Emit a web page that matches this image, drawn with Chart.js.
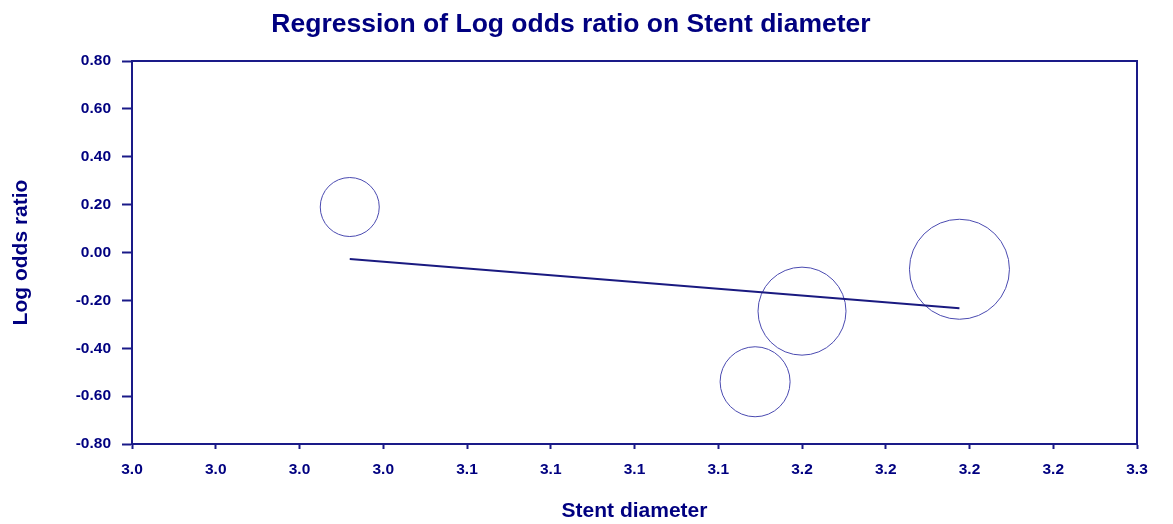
<!DOCTYPE html>
<html>
<head>
<meta charset="utf-8">
<script src="https://cdn.jsdelivr.net/npm/chart.js@4/dist/chart.umd.min.js"></script>
<style>
  html, body { margin: 0; padding: 0; background: #ffffff; }
  #wrap { width: 1173px; height: 524px; position: relative; }
</style>
</head>
<body>
<div id="wrap"><canvas id="chart" width="1173" height="524"></canvas></div>
<script>
// Studies: stent diameter (mm) vs log odds ratio, bubble radius = study weight
const stentDiameter = [3.025, 3.146, 3.160, 3.207];
const logOddsRatio  = [0.19, -0.54, -0.245, -0.07];
const studyWeight   = [29.5, 35, 44, 50];

// Fitted regression line endpoints
const fitDiameter = [3.025, 3.207];
const fitLogOdds  = [-0.027, -0.233];

// Axis ticks
const xTickValues = [2.96, 2.985, 3.01, 3.035, 3.06, 3.085, 3.11, 3.135, 3.16, 3.185, 3.21, 3.235, 3.26];
const xTickLabels = ['3.0', '3.0', '3.0', '3.0', '3.1', '3.1', '3.1', '3.1', '3.2', '3.2', '3.2', '3.2', '3.3'];
const yTickValues = [-0.8, -0.6, -0.4, -0.2, 0, 0.2, 0.4, 0.6, 0.8];
const yTickLabels = ['-0.80', '-0.60', '-0.40', '-0.20', '0.00', '0.20', '0.40', '0.60', '0.80'];

const titleText = 'Regression of Log odds ratio on Stent diameter';

const NAVY = '#000080';
const AXIS = '#1a1a88';
const FONT = "'Liberation Sans', Arial, sans-serif";

const bubbles = stentDiameter.map((d, i) => ({ x: d, y: logOddsRatio[i], r: studyWeight[i] }));
const fitLine = fitDiameter.map((d, i) => ({ x: d, y: fitLogOdds[i] }));

// Title and closing frame (top and right edges of the plot box)
const framePlugin = {
  id: 'frame',
  afterDraw(chart) {
    const { ctx, chartArea: a } = chart;
    ctx.save();
    ctx.strokeStyle = AXIS;
    ctx.lineWidth = 2;
    ctx.beginPath();
    ctx.moveTo(a.left, a.top);
    ctx.lineTo(a.right, a.top);
    ctx.lineTo(a.right, a.bottom);
    ctx.stroke();
    ctx.fillStyle = NAVY;
    ctx.font = 'bold 26.5px ' + FONT;
    ctx.textAlign = 'center';
    ctx.textBaseline = 'alphabetic';
    ctx.fillText(titleText, 571, 32);
    ctx.restore();
  }
};

new Chart(document.getElementById('chart'), {
  type: 'bubble',
  data: {
    datasets: [
      {
        type: 'line',
        data: fitLine,
        borderColor: '#1a1a80',
        borderWidth: 2,
        pointRadius: 0,
        fill: false,
        order: 0
      },
      {
        type: 'bubble',
        data: bubbles,
        backgroundColor: 'rgba(0,0,0,0)',
        borderColor: '#4a4ab0',
        borderWidth: 1,
        hoverBorderWidth: 1,
        order: 1
      }
    ]
  },
  options: {
    responsive: false,
    animation: false,
    events: [],
    layout: { autoPadding: false, padding: { top: 61, right: 36, left: 0, bottom: 0 } },
    plugins: {
      legend: { display: false },
      tooltip: { enabled: false },
      title: { display: false }
    },
    scales: {
      x: {
        type: 'linear',
        position: 'bottom',
        min: xTickValues[0],
        max: xTickValues[xTickValues.length - 1],
        afterBuildTicks(scale) { scale.ticks = xTickValues.map(v => ({ value: v })); },
        afterFit(scale) { scale.height = 80; },
        ticks: {
          autoSkip: false,
          maxRotation: 0,
          padding: 11,
          color: NAVY,
          font: { family: FONT, size: 15.5, weight: 'bold' },
          callback: (v, i) => xTickLabels[i]
        },
        grid: {
          display: true,
          drawOnChartArea: false,
          drawTicks: true,
          tickLength: 5,
          tickWidth: 2,
          tickColor: AXIS
        },
        border: { display: true, color: AXIS, width: 2 },
        title: {
          display: true,
          text: 'Stent diameter',
          color: NAVY,
          font: { family: FONT, size: 21, weight: 'bold' },
          padding: { top: 0, bottom: 0 }
        }
      },
      y: {
        type: 'linear',
        min: -0.8,
        max: 0.8,
        afterBuildTicks(scale) { scale.ticks = yTickValues.map(v => ({ value: v })); },
        afterFit(scale) { scale.width = 132; },
        ticks: {
          autoSkip: false,
          padding: 11,
          color: NAVY,
          font: { family: FONT, size: 15.5, weight: 'bold' },
          callback: (v, i) => yTickLabels[i]
        },
        grid: {
          display: true,
          drawOnChartArea: false,
          drawTicks: true,
          tickLength: 10,
          tickWidth: 2,
          tickColor: AXIS
        },
        border: { display: true, color: AXIS, width: 2 },
        title: {
          display: true,
          text: 'Log odds ratio',
          color: NAVY,
          font: { family: FONT, size: 21, weight: 'bold' },
          padding: { top: 9, bottom: 0 }
        }
      }
    }
  },
  plugins: [framePlugin]
});
</script>
</body>
</html>
